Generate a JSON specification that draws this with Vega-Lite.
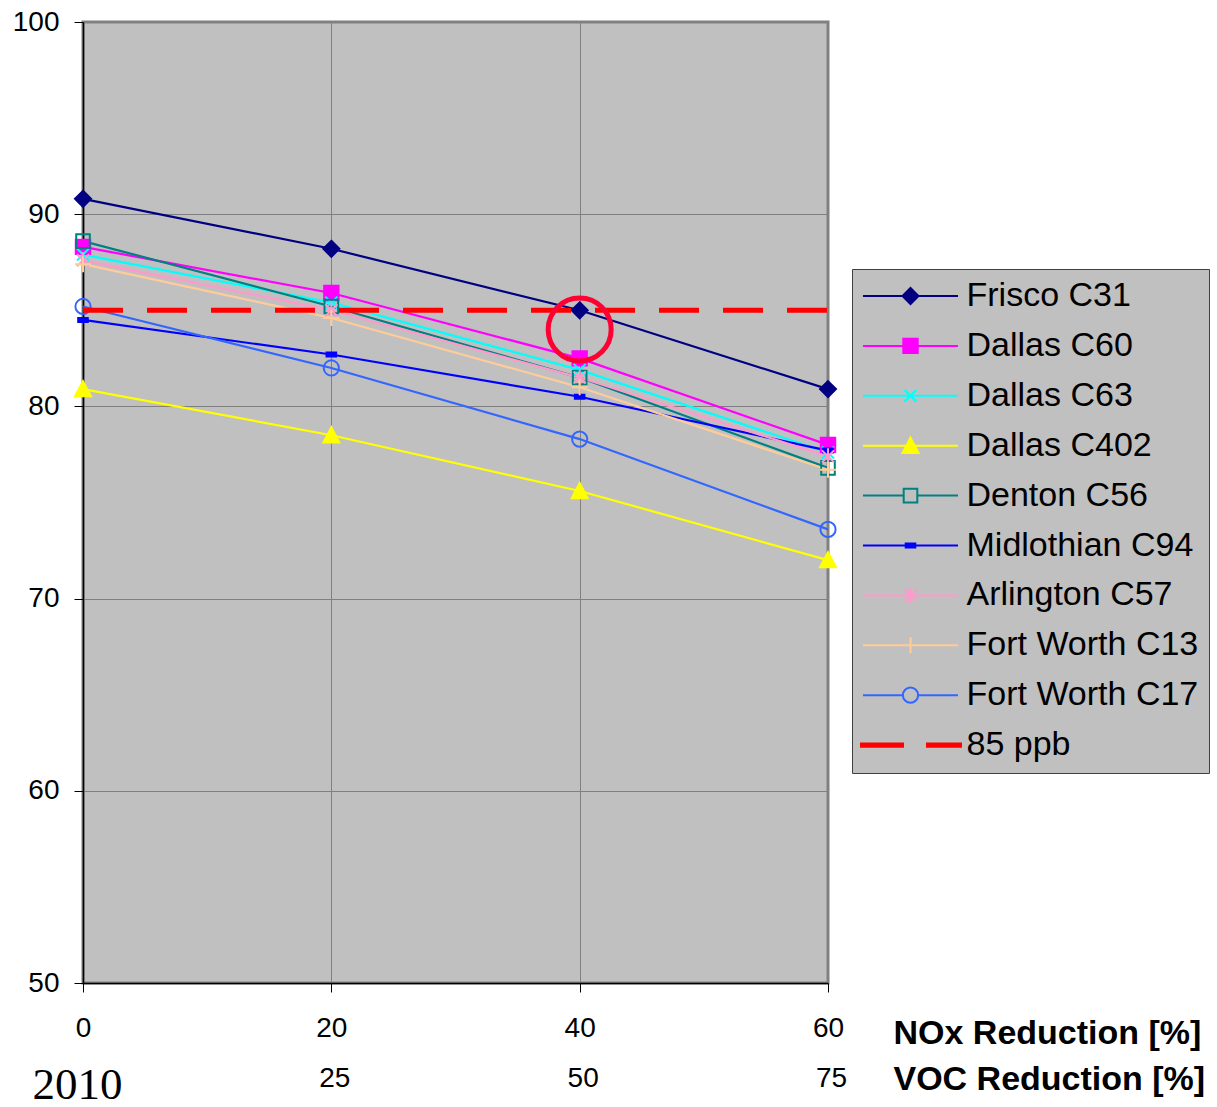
{
  "$schema": "https://vega.github.io/schema/vega-lite/v6.json",
  "width": 745,
  "height": 961,
  "autosize": "none",
  "padding": {"left": 83, "top": 22, "right": 389, "bottom": 124},
  "background": "white",
  "config": {
    "font": "Liberation Sans",
    "view": {"fill": "#C0C0C0", "stroke": "#808080", "strokeWidth": 3}
  },
  "datasets": {
    "sites": [
      {"site": "Frisco C31", "nox": 0, "value": 90.8},
      {"site": "Frisco C31", "nox": 20, "value": 88.2},
      {"site": "Frisco C31", "nox": 40, "value": 85.0},
      {"site": "Frisco C31", "nox": 60, "value": 80.9},
      {"site": "Dallas C60", "nox": 0, "value": 88.3},
      {"site": "Dallas C60", "nox": 20, "value": 85.9},
      {"site": "Dallas C60", "nox": 40, "value": 82.5},
      {"site": "Dallas C60", "nox": 60, "value": 78.0},
      {"site": "Dallas C63", "nox": 0, "value": 87.9},
      {"site": "Dallas C63", "nox": 20, "value": 85.4},
      {"site": "Dallas C63", "nox": 40, "value": 81.9},
      {"site": "Dallas C63", "nox": 60, "value": 77.6},
      {"site": "Dallas C402", "nox": 0, "value": 80.9},
      {"site": "Dallas C402", "nox": 20, "value": 78.5},
      {"site": "Dallas C402", "nox": 40, "value": 75.6},
      {"site": "Dallas C402", "nox": 60, "value": 72.0},
      {"site": "Denton C56", "nox": 0, "value": 88.6},
      {"site": "Denton C56", "nox": 20, "value": 85.2},
      {"site": "Denton C56", "nox": 40, "value": 81.5},
      {"site": "Denton C56", "nox": 60, "value": 76.8},
      {"site": "Midlothian C94", "nox": 0, "value": 84.5},
      {"site": "Midlothian C94", "nox": 20, "value": 82.7},
      {"site": "Midlothian C94", "nox": 40, "value": 80.5},
      {"site": "Midlothian C94", "nox": 60, "value": 77.7},
      {"site": "Arlington C57", "nox": 0, "value": 87.6},
      {"site": "Arlington C57", "nox": 20, "value": 85.0},
      {"site": "Arlington C57", "nox": 40, "value": 81.5},
      {"site": "Arlington C57", "nox": 60, "value": 77.4},
      {"site": "Fort Worth C13", "nox": 0, "value": 87.4},
      {"site": "Fort Worth C13", "nox": 20, "value": 84.6},
      {"site": "Fort Worth C13", "nox": 40, "value": 81.0},
      {"site": "Fort Worth C13", "nox": 60, "value": 76.7},
      {"site": "Fort Worth C17", "nox": 0, "value": 85.2},
      {"site": "Fort Worth C17", "nox": 20, "value": 82.0},
      {"site": "Fort Worth C17", "nox": 40, "value": 78.3},
      {"site": "Fort Worth C17", "nox": 60, "value": 73.6}
    ],
    "thr": [
      {"site": "85 ppb", "nox": 0, "value": 85},
      {"site": "85 ppb", "nox": 60, "value": 85}
    ],
    "note": [
      {"nox": 40, "value": 84.0}
    ]
  },
  "encoding": {
    "y": {
      "field": "value", "type": "quantitative",
      "scale": {"domain": [50, 100], "nice": false, "zero": false},
      "axis": {
        "values": [50, 60, 70, 80, 90, 100],
        "grid": true, "gridColor": "#808080", "gridWidth": 1,
        "domainColor": "black", "domainWidth": 1.5,
        "tickColor": "black", "tickSize": 9, "tickWidth": 1,
        "labelFont": "Liberation Sans", "labelFontSize": 28, "labelColor": "black",
        "labelPadding": 15, "labelFlush": false, "labelOverlap": false, "labelBound": false,
        "title": null
      }
    }
  },
  "resolve": {"axis": {"x": "independent"}},
  "layer": [
    {
      "data": {"name": "sites"},
      "mark": {"type": "line", "strokeWidth": 2.2},
      "encoding": {
        "x": {
          "field": "nox", "type": "quantitative",
          "scale": {"domain": [0, 60], "nice": false, "zero": false},
          "axis": {
            "orient": "bottom", "values": [0, 20, 40, 60],
            "grid": true, "gridColor": "#808080", "gridWidth": 1,
            "domainColor": "black", "domainWidth": 1.5,
            "tickColor": "black", "tickSize": 9, "tickWidth": 1,
            "labelFont": "Liberation Sans", "labelFontSize": 28, "labelColor": "black",
            "labelPadding": 22, "labelFlush": false, "labelOverlap": false, "labelBound": false,
            "title": "NOx Reduction [%]", "titleFont": "Liberation Sans", "titleFontSize": 34,
            "titleFontWeight": "bold", "titleColor": "black",
            "titleX": 810, "titleY": 50, "titleAlign": "left", "titleBaseline": "middle", "titleAngle": 0
          }
        },
        "color": {
          "field": "site", "type": "nominal",
          "scale": {
            "domain": ["Frisco C31", "Dallas C60", "Dallas C63", "Dallas C402", "Denton C56", "Midlothian C94", "Arlington C57", "Fort Worth C13", "Fort Worth C17", "85 ppb"],
            "range": ["#000080", "#FF00FF", "#00FFFF", "#FFFF00", "#008080", "#0000FF", "#FF99CC", "#FFCC99", "#3366FF", "#FF0000"]
          },
          "legend": {
            "orient": "none", "legendX": 769, "legendY": 247,
            "title": null, "fillColor": "#C0C0C0", "strokeColor": "#404040",
            "padding": 10, "rowPadding": 15.9,
            "symbolSize": 256, "symbolOffset": 31.5, "symbolStrokeWidth": 2,
            "labelOffset": 39, "labelFont": "Liberation Sans", "labelFontSize": 34,
            "labelColor": "black", "labelLimit": 500,
            "encode": {
              "symbols": {
                "update": {
                  "shape": {"signal": "datum.value==='Frisco C31'?'M-5.94,0H5.94M0,-1L1,0L0,1L-1,0Z':datum.value==='Dallas C60'?'M-5.94,0H5.94M-0.9,-0.9H0.9V0.9H-0.9Z':datum.value==='Dallas C63'?'M-5.94,0H5.94M-0.75,-0.75L0.75,0.75M-0.75,0.75L0.75,-0.75':datum.value==='Dallas C402'?'M-5.94,0H5.94M0,-1L1,0.9H-1Z':datum.value==='Denton C56'?'M-5.94,0H-0.85M0.85,0H5.94M-0.85,-0.85H0.85V0.85H-0.85Z':datum.value==='Midlothian C94'?'M-5.94,0H5.94M-0.6,-0.25H0.6V0.25H-0.6Z':datum.value==='Arlington C57'?'M-5.94,0H5.94M-0.75,-0.75L0.75,0.75M-0.75,0.75L0.75,-0.75M0,-1V1':datum.value==='Fort Worth C13'?'M-5.94,0H5.94M0,-1V1':datum.value==='Fort Worth C17'?'M-5.94,0H-0.95M0.95,0H5.94M0.95,0A0.95,0.95 0 1,1 -0.95,0A0.95,0.95 0 1,1 0.95,0Z':'M-6.19,-0.2H-0.94V0.2H-6.19ZM2.06,-0.2H6.31V0.2H2.06Z'"},
                  "fill": {"signal": "indexof(['Dallas C63','Denton C56','Arlington C57','Fort Worth C13','Fort Worth C17'], datum.value) >= 0 ? 'transparent' : scale('color', datum.value)"},
                  "stroke": {"signal": "scale('color', datum.value)"},
                  "strokeWidth": {"value": 2},
                  "strokeDash": {"value": []},
                  "opacity": {"value": 1}
                }
              }
            }
          }
        }
      }
    },
    {
      "data": {"name": "sites"},
      "mark": {"type": "point", "size": 256, "strokeWidth": 2, "opacity": 1},
      "encoding": {
        "x": {
          "field": "nox", "type": "quantitative",
          "axis": {
            "orient": "bottom", "values": [0, 20, 40, 60],
            "grid": false, "domain": false, "ticks": false, "tickSize": 0,
            "labelExpr": "datum.value == 0 ? '2010' : datum.value == 20 ? '25' : datum.value == 40 ? '50' : '75'",
            "labelFont": {"condition": {"test": "datum.value == 0", "value": "Liberation Serif"}, "value": "Liberation Sans"},
            "labelFontSize": {"condition": {"test": "datum.value == 0", "value": 45}, "value": 28},
            "labelOffset": {"condition": {"test": "datum.value == 0", "value": -6}, "value": 3},
            "labelPadding": {"condition": {"test": "datum.value == 0", "value": 79}, "value": 81},
            "labelColor": "black",
            "labelFlush": false, "labelOverlap": false, "labelBound": false,
            "title": "VOC Reduction [%]", "titleFont": "Liberation Sans", "titleFontSize": 34,
            "titleFontWeight": "bold", "titleColor": "black",
            "titleX": 810, "titleY": 96, "titleAlign": "left", "titleBaseline": "middle", "titleAngle": 0
          }
        },
        "shape": {
          "field": "site", "type": "nominal", "legend": null,
          "scale": {
            "domain": ["Frisco C31", "Dallas C60", "Dallas C63", "Dallas C402", "Denton C56", "Midlothian C94", "Arlington C57", "Fort Worth C13", "Fort Worth C17"],
            "range": ["M0,-1L1,0L0,1L-1,0Z", "M-0.9,-0.9H0.9V0.9H-0.9Z", "M-0.75,-0.75L0.75,0.75M-0.75,0.75L0.75,-0.75", "M0,-1L1,0.9H-1Z", "M-0.85,-0.85H0.85V0.85H-0.85Z", "M-0.6,-0.25H0.6V0.25H-0.6Z", "M-0.75,-0.75L0.75,0.75M-0.75,0.75L0.75,-0.75M0,-1V1", "M-1,0H1M0,-1V1", "M0.95,0A0.95,0.95 0 1,1 -0.95,0A0.95,0.95 0 1,1 0.95,0Z"]
          }
        },
        "stroke": {
          "field": "site", "type": "nominal", "legend": null,
          "scale": {
            "domain": ["Frisco C31", "Dallas C60", "Dallas C63", "Dallas C402", "Denton C56", "Midlothian C94", "Arlington C57", "Fort Worth C13", "Fort Worth C17"],
            "range": ["#000080", "#FF00FF", "#00FFFF", "#FFFF00", "#008080", "#0000FF", "#FF99CC", "#FFCC99", "#3366FF"]
          }
        },
        "fill": {
          "field": "site", "type": "nominal", "legend": null,
          "scale": {
            "domain": ["Frisco C31", "Dallas C60", "Dallas C63", "Dallas C402", "Denton C56", "Midlothian C94", "Arlington C57", "Fort Worth C13", "Fort Worth C17"],
            "range": ["#000080", "#FF00FF", "transparent", "#FFFF00", "transparent", "#0000FF", "transparent", "transparent", "transparent"]
          }
        }
      }
    },
    {
      "data": {"name": "thr"},
      "mark": {"type": "line", "strokeWidth": 5, "strokeDash": [40, 24], "strokeCap": "butt"},
      "encoding": {
        "x": {"field": "nox", "type": "quantitative", "axis": null},
        "color": {"field": "site", "type": "nominal", "legend": null}
      }
    },
    {
      "data": {"name": "note"},
      "mark": {"type": "point", "shape": "circle", "size": 3969, "filled": false, "stroke": "#FF0033", "strokeWidth": 5, "opacity": 1},
      "encoding": {
        "x": {"field": "nox", "type": "quantitative", "axis": null}
      }
    }
  ]
}
